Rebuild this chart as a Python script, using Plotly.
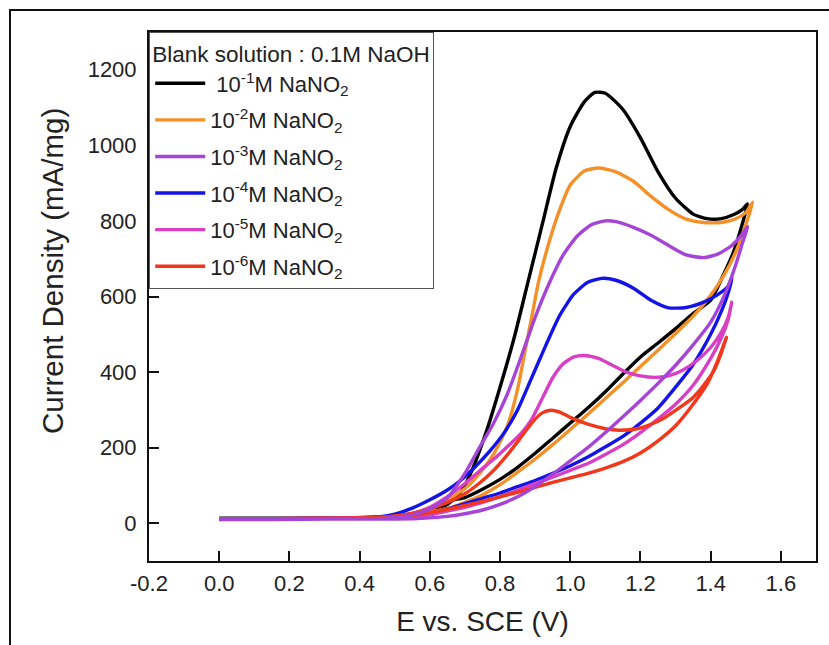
import plotly.graph_objects as go

# Cyclic voltammograms: each loop is the forward sweep followed by the reverse sweep.
labels = [
    " 10<sup>-1</sup>M NaNO<sub>2</sub>",
    "10<sup>-2</sup>M NaNO<sub>2</sub>",
    "10<sup>-3</sup>M NaNO<sub>2</sub>",
    "10<sup>-4</sup>M NaNO<sub>2</sub>",
    "10<sup>-5</sup>M NaNO<sub>2</sub>",
    "10<sup>-6</sup>M NaNO<sub>2</sub>",
]
colors = ["#000000", "#f39028", "#a544d6", "#1414e6", "#d83fc4", "#f2381c"]

# 10^-1 M
E_1 = [0.0, 0.15, 0.3, 0.45, 0.5, 0.55, 0.6, 0.64, 0.667, 0.70, 0.75, 0.80, 0.85, 0.90, 0.95, 1.0,
       1.05, 1.10, 1.15, 1.20, 1.25, 1.30, 1.35, 1.40, 1.43, 1.466, 1.494, 1.505,
       1.49, 1.466, 1.43, 1.39, 1.35, 1.30, 1.25, 1.20, 1.15, 1.10, 1.07, 1.04, 1.0, 0.96, 0.92,
       0.88, 0.84, 0.80, 0.76, 0.72, 0.69, 0.667, 0.64, 0.6, 0.55, 0.5, 0.45, 0.3, 0.15, 0.0]
J_1 = [13, 13, 14, 16, 19, 25, 36, 50, 62, 68, 90, 116, 148, 185, 225, 265,
       305, 348, 395, 440, 477, 515, 555, 590, 645, 720, 805, 845,
       830, 817, 806, 806, 818, 860, 930, 1020, 1095, 1138, 1140, 1115, 1050, 940, 790,
       640, 490, 360, 240, 140, 85, 62, 44, 30, 22, 17, 15, 14, 13, 13]

# 10^-2 M
E_2 = [0.0, 0.15, 0.3, 0.45, 0.5, 0.55, 0.60, 0.668, 0.70, 0.75, 0.80, 0.85, 0.90, 0.95, 1.0,
       1.05, 1.10, 1.15, 1.20, 1.25, 1.30, 1.35, 1.40, 1.44, 1.47, 1.50, 1.52,
       1.50, 1.47, 1.43, 1.38, 1.33, 1.28, 1.23, 1.18, 1.13, 1.08, 1.04, 1.0, 0.97, 0.94, 0.91,
       0.89, 0.87, 0.85, 0.82, 0.78, 0.74, 0.70, 0.65, 0.60, 0.55, 0.50, 0.45, 0.3, 0.15, 0.0]
J_2 = [12, 12, 13, 15, 18, 23, 30, 44, 55, 75, 102, 135, 170, 208, 248,
       288, 330, 372, 415, 458, 502, 548, 603, 660, 715, 790, 850,
       822, 805, 796, 796, 805, 830, 865, 905, 930, 940, 932, 895, 830, 745, 640,
       545, 450, 355, 255, 180, 130, 92, 62, 38, 26, 19, 15, 13, 12, 12]

# 10^-3 M
E_3 = [0.0, 0.15, 0.3, 0.45, 0.55, 0.60, 0.65, 0.70, 0.75, 0.80, 0.85, 0.90, 0.95, 1.0,
       1.05, 1.10, 1.15, 1.20, 1.25, 1.30, 1.35, 1.40, 1.44, 1.47, 1.49, 1.505,
       1.49, 1.46, 1.42, 1.38, 1.33, 1.28, 1.23, 1.18, 1.13, 1.10, 1.06, 1.02, 0.98, 0.94,
       0.90, 0.86, 0.82, 0.78, 0.74, 0.70, 0.65, 0.60, 0.55, 0.50, 0.45, 0.3, 0.15, 0.0]
J_3 = [10, 10, 11, 11, 12, 14, 18, 25, 35, 50, 70, 97, 130, 165,
       200, 240, 282, 325, 370, 418, 472, 532, 605, 680, 740, 785,
       765, 735, 712, 703, 710, 735, 762, 783, 798, 800, 790, 760, 710, 635,
       545, 440, 340, 262, 198, 132, 68, 38, 22, 15, 12, 11, 10, 10]

# 10^-4 M
E_4 = [0.0, 0.15, 0.3, 0.45, 0.55, 0.60, 0.65, 0.70, 0.75, 0.80, 0.85, 0.90, 0.95, 1.0,
       1.05, 1.10, 1.15, 1.20, 1.25, 1.30, 1.35, 1.40, 1.43, 1.45, 1.461,
       1.45, 1.42, 1.38, 1.33, 1.28, 1.23, 1.18, 1.13, 1.09, 1.05, 1.01, 0.97, 0.93, 0.89,
       0.85, 0.81, 0.77, 0.73, 0.69, 0.65, 0.60, 0.55, 0.50, 0.46, 0.3, 0.15, 0.0]
J_4 = [12, 12, 13, 15, 18, 26, 38, 52, 66, 80, 97, 113, 132, 152,
       175, 202, 230, 265, 305, 360, 420, 500, 560, 610, 650,
       628, 605, 585, 571, 570, 590, 622, 643, 648, 638, 606, 550, 470, 385,
       300, 237, 190, 150, 115, 88, 62, 40, 24, 17, 13, 12, 12]

# 10^-5 M
E_5 = [0.0, 0.15, 0.3, 0.45, 0.55, 0.60, 0.65, 0.70, 0.75, 0.80, 0.85, 0.90, 0.95, 1.0,
       1.05, 1.10, 1.15, 1.20, 1.25, 1.30, 1.35, 1.40, 1.43, 1.45, 1.46,
       1.45, 1.43, 1.40, 1.36, 1.32, 1.28, 1.24, 1.20, 1.16, 1.12, 1.08, 1.04, 1.01, 0.98,
       0.95, 0.92, 0.89, 0.86, 0.82, 0.78, 0.74, 0.70, 0.65, 0.60, 0.55, 0.50, 0.45, 0.3,
       0.15, 0.0]
J_5 = [12, 12, 13, 15, 18, 22, 32, 42, 55, 70, 87, 105, 122, 140,
       158, 182, 208, 240, 276, 315, 365, 436, 490, 540, 585,
       545, 505, 465, 430, 405, 390, 386, 390, 400, 418, 436, 444, 440, 422,
       385, 330, 275, 238, 202, 168, 137, 105, 70, 42, 26, 18, 15, 13,
       12, 12]

# 10^-6 M
E_6 = [0.0, 0.15, 0.3, 0.45, 0.55, 0.60, 0.65, 0.70, 0.75, 0.80, 0.85, 0.90, 0.95, 1.0,
       1.05, 1.10, 1.15, 1.20, 1.25, 1.30, 1.35, 1.39, 1.42, 1.445,
       1.43, 1.41, 1.38, 1.35, 1.31, 1.27, 1.23, 1.19, 1.14, 1.10, 1.05, 1.0, 0.97, 0.945,
       0.92, 0.89, 0.86, 0.82, 0.78, 0.74, 0.70, 0.65, 0.60, 0.55, 0.50, 0.45, 0.3, 0.15, 0.0]
J_6 = [12, 12, 13, 15, 20, 28, 37, 47, 58, 70, 82, 95, 108, 120,
       132, 146, 163, 186, 218, 258, 315, 369, 430, 492,
       450, 405, 365, 333, 305, 280, 262, 250, 246, 250, 262, 280, 294, 299,
       292, 265, 228, 180, 138, 105, 78, 55, 38, 26, 19, 15, 13, 12, 12]

E_series = [E_1, E_2, E_3, E_4, E_5, E_6]
J_series = [J_1, J_2, J_3, J_4, J_5, J_6]
draw_order = [0, 1, 3, 4, 5, 2]   # the 10^-3 M loop sits on top

x_ticks = [-0.2, 0.0, 0.2, 0.4, 0.6, 0.8, 1.0, 1.2, 1.4, 1.6]
x_tick_text = ["-0.2", "0.0", "0.2", "0.4", "0.6", "0.8", "1.0", "1.2", "1.4", "1.6"]
y_ticks = [0, 200, 400, 600, 800, 1000, 1200]

FONT = "Liberation Sans, Arial, sans-serif"
TXT = "#222222"

fig = go.Figure()
for i in draw_order:
    fig.add_trace(go.Scatter(
        x=E_series[i], y=J_series[i], mode="lines", name=labels[i],
        legendgroup=f"g{i}", legendrank=i + 1,
        line=dict(color=colors[i], width=3.4, shape="spline", smoothing=0.6),
    ))

W, H = 829, 645
ml, mr, mt, mb = 149, 13, 32, 84
pw, ph = W - ml - mr, H - mt - mb

fig.update_layout(
    width=W, height=H,
    margin=dict(l=ml, r=mr, t=mt, b=mb),
    paper_bgcolor="white", plot_bgcolor="white",
    font=dict(family=FONT, color=TXT),
    showlegend=True,
    legend=dict(
        x=0, y=1, xanchor="left", yanchor="top",
        bgcolor="white", bordercolor="#555555", borderwidth=1.2,
        font=dict(size=22, family=FONT, color=TXT),
        title=dict(text="Blank solution : 0.1M NaOH", font=dict(size=22.5, family=FONT, color=TXT)),
        tracegroupgap=5, itemwidth=50,
    ),
    xaxis=dict(
        range=[-0.2, 1.7], tickvals=x_ticks, ticktext=x_tick_text,
        ticks="inside", ticklen=10, tickwidth=2, tickcolor="#111111",
        showline=True, linecolor="#111111", linewidth=2, mirror=True,
        showgrid=False, zeroline=False, ticklabelstandoff=2,
        tickfont=dict(size=22, family=FONT, color=TXT),
        title=dict(text="E vs. SCE (V)", font=dict(size=28, family=FONT, color=TXT), standoff=16),
    ),
    yaxis=dict(
        range=[-100, 1300], tickvals=y_ticks,
        ticks="inside", ticklen=10, tickwidth=2, tickcolor="#111111",
        showline=True, linecolor="#111111", linewidth=2, mirror=True,
        showgrid=False, zeroline=False, ticklabelstandoff=6,
        tickfont=dict(size=22, family=FONT, color=TXT),
    ),
)

# y-axis title, set a little above the middle of the axis
fig.add_annotation(
    text="Current Density (mA/mg)", textangle=-90, showarrow=False,
    xref="paper", yref="paper", x=(52 - ml) / pw, y=(H - mb - 271) / ph,
    xanchor="center", yanchor="middle",
    font=dict(size=29.5, family=FONT, color=TXT),
)

# outer frame around the whole figure
fig.add_shape(
    type="rect", xref="paper", yref="paper",
    x0=(10 - ml) / pw, x1=(W + 10 - ml) / pw,
    y0=-(mb + 10) / ph, y1=1 + (mt - 10) / ph,
    line=dict(color="#111111", width=2), fillcolor="rgba(0,0,0,0)", layer="below",
)

fig.write_html("out.html")
